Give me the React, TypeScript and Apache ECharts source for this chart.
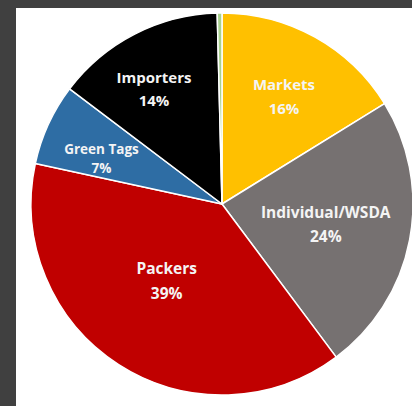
import React, { useEffect, useRef } from "react";
import * as echarts from "echarts";

const categories = ["Markets", "Individual/WSDA", "Packers", "Green Tags", "Importers", "Other"];
const values = [16.2, 23.6, 38.6, 6.9, 14.3, 0.4];
const showLabel = [true, true, true, true, true, false];

const colors = ["#FFC000", "#767171", "#C00000", "#2E6DA4", "#000000", "#A9D18E"];
const labelOffsets: [number, number][] = [
  [14, -22],
  [7, 2],
  [-2, -6],
  [-31, -4],
  [-23, -28],
  [0, 0],
];
const labelSizes = [15, 15.5, 15.5, 13.5, 15, 14];
const labelLineHeights = [24, 24, 25, 19, 23, 20];

export default function App() {
  const ref = useRef<HTMLDivElement>(null);
  useEffect(() => {
    if (!ref.current) return;
    const chart = echarts.init(ref.current, null, { renderer: "svg" });
    chart.setOption({
      animation: false,
      backgroundColor: "#404040",
      graphic: [
        {
          type: "rect",
          shape: { x: 16, y: 8, width: 400, height: 400 },
          style: { fill: "#ffffff" },
          z: -10,
        },
      ],
      series: [
        {
          type: "pie",
          center: [222, 204],
          radius: 191,
          startAngle: 90,
          clockwise: true,
          percentPrecision: 0,
          avoidLabelOverlap: false,
          itemStyle: { borderColor: "#ffffff", borderWidth: 1.5 },
          label: {
            show: true,
            position: "inside",
            formatter: "{b}\n{d}%",
            color: "#f4f4f4",
            fontFamily: "Open Sans",
            fontWeight: "bold",
            fontSize: 15,
            lineHeight: 24,
            align: "center",
          },
          labelLine: { show: false },
          emphasis: { disabled: true },
          labelLayout: (params: any) => {
            const o = labelOffsets[params.dataIndex] || [0, 0];
            return { dx: o[0], dy: o[1] };
          },
          data: categories.map((name, i) => ({
            name,
            value: values[i],
            itemStyle: { color: colors[i] },
            label: {
              show: showLabel[i],
              fontSize: labelSizes[i],
              lineHeight: labelLineHeights[i],
            },
          })),
        },
      ],
    });
    return () => chart.dispose();
  }, []);
  return (
    <div
      ref={ref}
      style={{ position: "fixed", left: 0, top: 0, width: 412, height: 406 }}
    />
  );
}
